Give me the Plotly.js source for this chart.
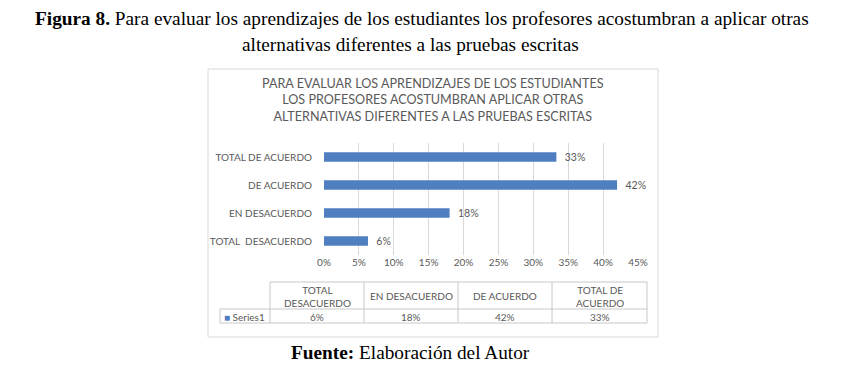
<!DOCTYPE html>
<html>
<head>
<meta charset="utf-8">
<script src="https://cdn.plot.ly/plotly-3.0.1.min.js"></script>
<style>html,body{margin:0;padding:0;background:#fff;}#chart{width:845px;height:369px;}</style>
</head>
<body>
<div id="chart"></div>
<script>
// ---- data ----
const categories = ["TOTAL\u00a0\u00a0DESACUERDO", "EN DESACUERDO", "DE ACUERDO", "TOTAL DE ACUERDO"];
const values = [0.063, 0.18, 0.42, 0.333];
const tableHeaders = ["TOTAL<br>DESACUERDO", "EN DESACUERDO", "DE ACUERDO", "TOTAL DE<br>ACUERDO"];
const seriesName = "Series1";
const xTicks = [0, 0.05, 0.10, 0.15, 0.20, 0.25, 0.30, 0.35, 0.40, 0.45];
const captionLine1 = "<b>Figura 8.</b> Para evaluar los aprendizajes de los estudiantes los profesores acostumbran a aplicar otras";
const captionLine2 = "alternativas diferentes a las pruebas escritas";
const chartTitle = "PARA EVALUAR LOS APRENDIZAJES DE LOS ESTUDIANTES<br>LOS PROFESORES ACOSTUMBRAN APLICAR OTRAS<br>ALTERNATIVAS DIFERENTES A LAS PRUEBAS ESCRITAS";
const sourceText = "<b>Fuente:</b> Elaboración del Autor";

// ---- layout geometry (pixels) ----
const W = 845, H = 369;
const PL = 324, PR = 638, PT = 143, PB = 255;
const px = x => (x - PL) / (PR - PL);
const py = y => (PB - y) / (PB - PT);

const gray = "#595959";
const lineGray = "#c8c8c8";
const barColor = "#4f7fc0";
const uiFont = "Lato, 'Open Sans', sans-serif";
const serif = "'Liberation Serif', 'Times New Roman', serif";
const fs = 10;

const shapes = [];
const annotations = [];

// outer chart border
shapes.push({type: "rect", xref: "paper", yref: "paper", x0: px(208), x1: px(658), y0: py(69), y1: py(337),
  line: {color: "#d9d9d9", width: 1}, fillcolor: "rgba(0,0,0,0)", layer: "below"});

// data table
const colEdges = [270, 364, 458, 552, 647];
const legendLeft = 220;
const rowTop = 282, rowMid = 309, rowBot = 323;
const hline = (x0, x1, y) => shapes.push({type: "line", xref: "paper", yref: "paper", x0: px(x0), x1: px(x1), y0: py(y), y1: py(y), line: {color: lineGray, width: 1}});
const vline = (x, y0, y1) => shapes.push({type: "line", xref: "paper", yref: "paper", x0: px(x), x1: px(x), y0: py(y0), y1: py(y1), line: {color: lineGray, width: 1}});
hline(colEdges[0], colEdges[colEdges.length - 1], rowTop);
hline(legendLeft, colEdges[colEdges.length - 1], rowMid);
hline(legendLeft, colEdges[colEdges.length - 1], rowBot);
vline(legendLeft, rowMid, rowBot);
colEdges.forEach(x => vline(x, rowTop, rowBot));

tableHeaders.forEach((h, i) => {
  const cx = (colEdges[i] + colEdges[i + 1]) / 2;
  annotations.push({xref: "paper", yref: "paper", x: px(cx), y: py((rowTop + rowMid) / 2 + 0.5), text: h,
    showarrow: false, xanchor: "center", yanchor: "middle", align: "center",
    font: {family: uiFont, size: fs, color: gray}});
  annotations.push({xref: "paper", yref: "paper", x: px(cx), y: py((rowMid + rowBot) / 2 + 0.5),
    text: Math.round(values[i] * 100) + "%",
    showarrow: false, xanchor: "center", yanchor: "middle",
    font: {family: uiFont, size: fs, color: gray}});
});
annotations.push({xref: "paper", yref: "paper", x: px(legendLeft + 2), y: py((rowMid + rowBot) / 2 + 0.5),
  text: "<span style='color:" + barColor + "'>■</span> " + seriesName,
  showarrow: false, xanchor: "left", yanchor: "middle",
  font: {family: uiFont, size: fs, color: gray}});

// chart title
annotations.push({xref: "paper", yref: "paper", x: px(433), y: py(100), text: chartTitle,
  showarrow: false, xanchor: "center", yanchor: "middle", align: "center",
  font: {family: uiFont, size: 12.6, color: gray}});

// figure caption
const capSize = 19.3;
annotations.push({xref: "paper", yref: "paper", x: px(422), y: py(18), text: captionLine1,
  showarrow: false, xanchor: "center", yanchor: "middle",
  font: {family: serif, size: capSize, color: "#000"}});
annotations.push({xref: "paper", yref: "paper", x: px(410), y: py(44), text: captionLine2,
  showarrow: false, xanchor: "center", yanchor: "middle",
  font: {family: serif, size: capSize, color: "#000"}});
annotations.push({xref: "paper", yref: "paper", x: px(410), y: py(352), text: sourceText,
  showarrow: false, xanchor: "center", yanchor: "middle",
  font: {family: serif, size: capSize, color: "#000"}});

const trace = {
  type: "bar",
  orientation: "h",
  y: categories,
  x: values,
  name: seriesName,
  marker: {color: barColor},
  text: values.map(v => Math.round(v * 100) + "%"),
  texttemplate: "\u00a0\u00a0%{text}",
  textposition: "outside",
  constraintext: "none",
  cliponaxis: false,
  textfont: {family: uiFont, size: 10.5, color: gray},
  hoverinfo: "none"
};

const layout = {
  width: W, height: H,
  margin: {l: PL, r: W - PR, t: PT, b: H - PB, pad: 0},
  paper_bgcolor: "#fff", plot_bgcolor: "#fff",
  showlegend: false,
  bargap: 0.66,
  xaxis: {
    range: [0, 0.45], tickvals: xTicks, tickformat: ".0%",
    showgrid: true, gridcolor: "#d9d9d9", gridwidth: 1,
    zeroline: false, showline: false, ticks: "",
    tickfont: {family: uiFont, size: fs, color: gray},
    fixedrange: true
  },
  yaxis: {
    type: "category", categoryorder: "array", categoryarray: categories,
    showgrid: false, zeroline: false, showline: false, ticks: "",
    ticklabelstandoff: 11,
    tickfont: {family: uiFont, size: fs, color: gray},
    fixedrange: true
  },
  shapes: shapes,
  annotations: annotations,
  font: {family: uiFont}
};

Plotly.newPlot("chart", [trace], layout, {displayModeBar: false, staticPlot: true});
</script>
</body>
</html>
